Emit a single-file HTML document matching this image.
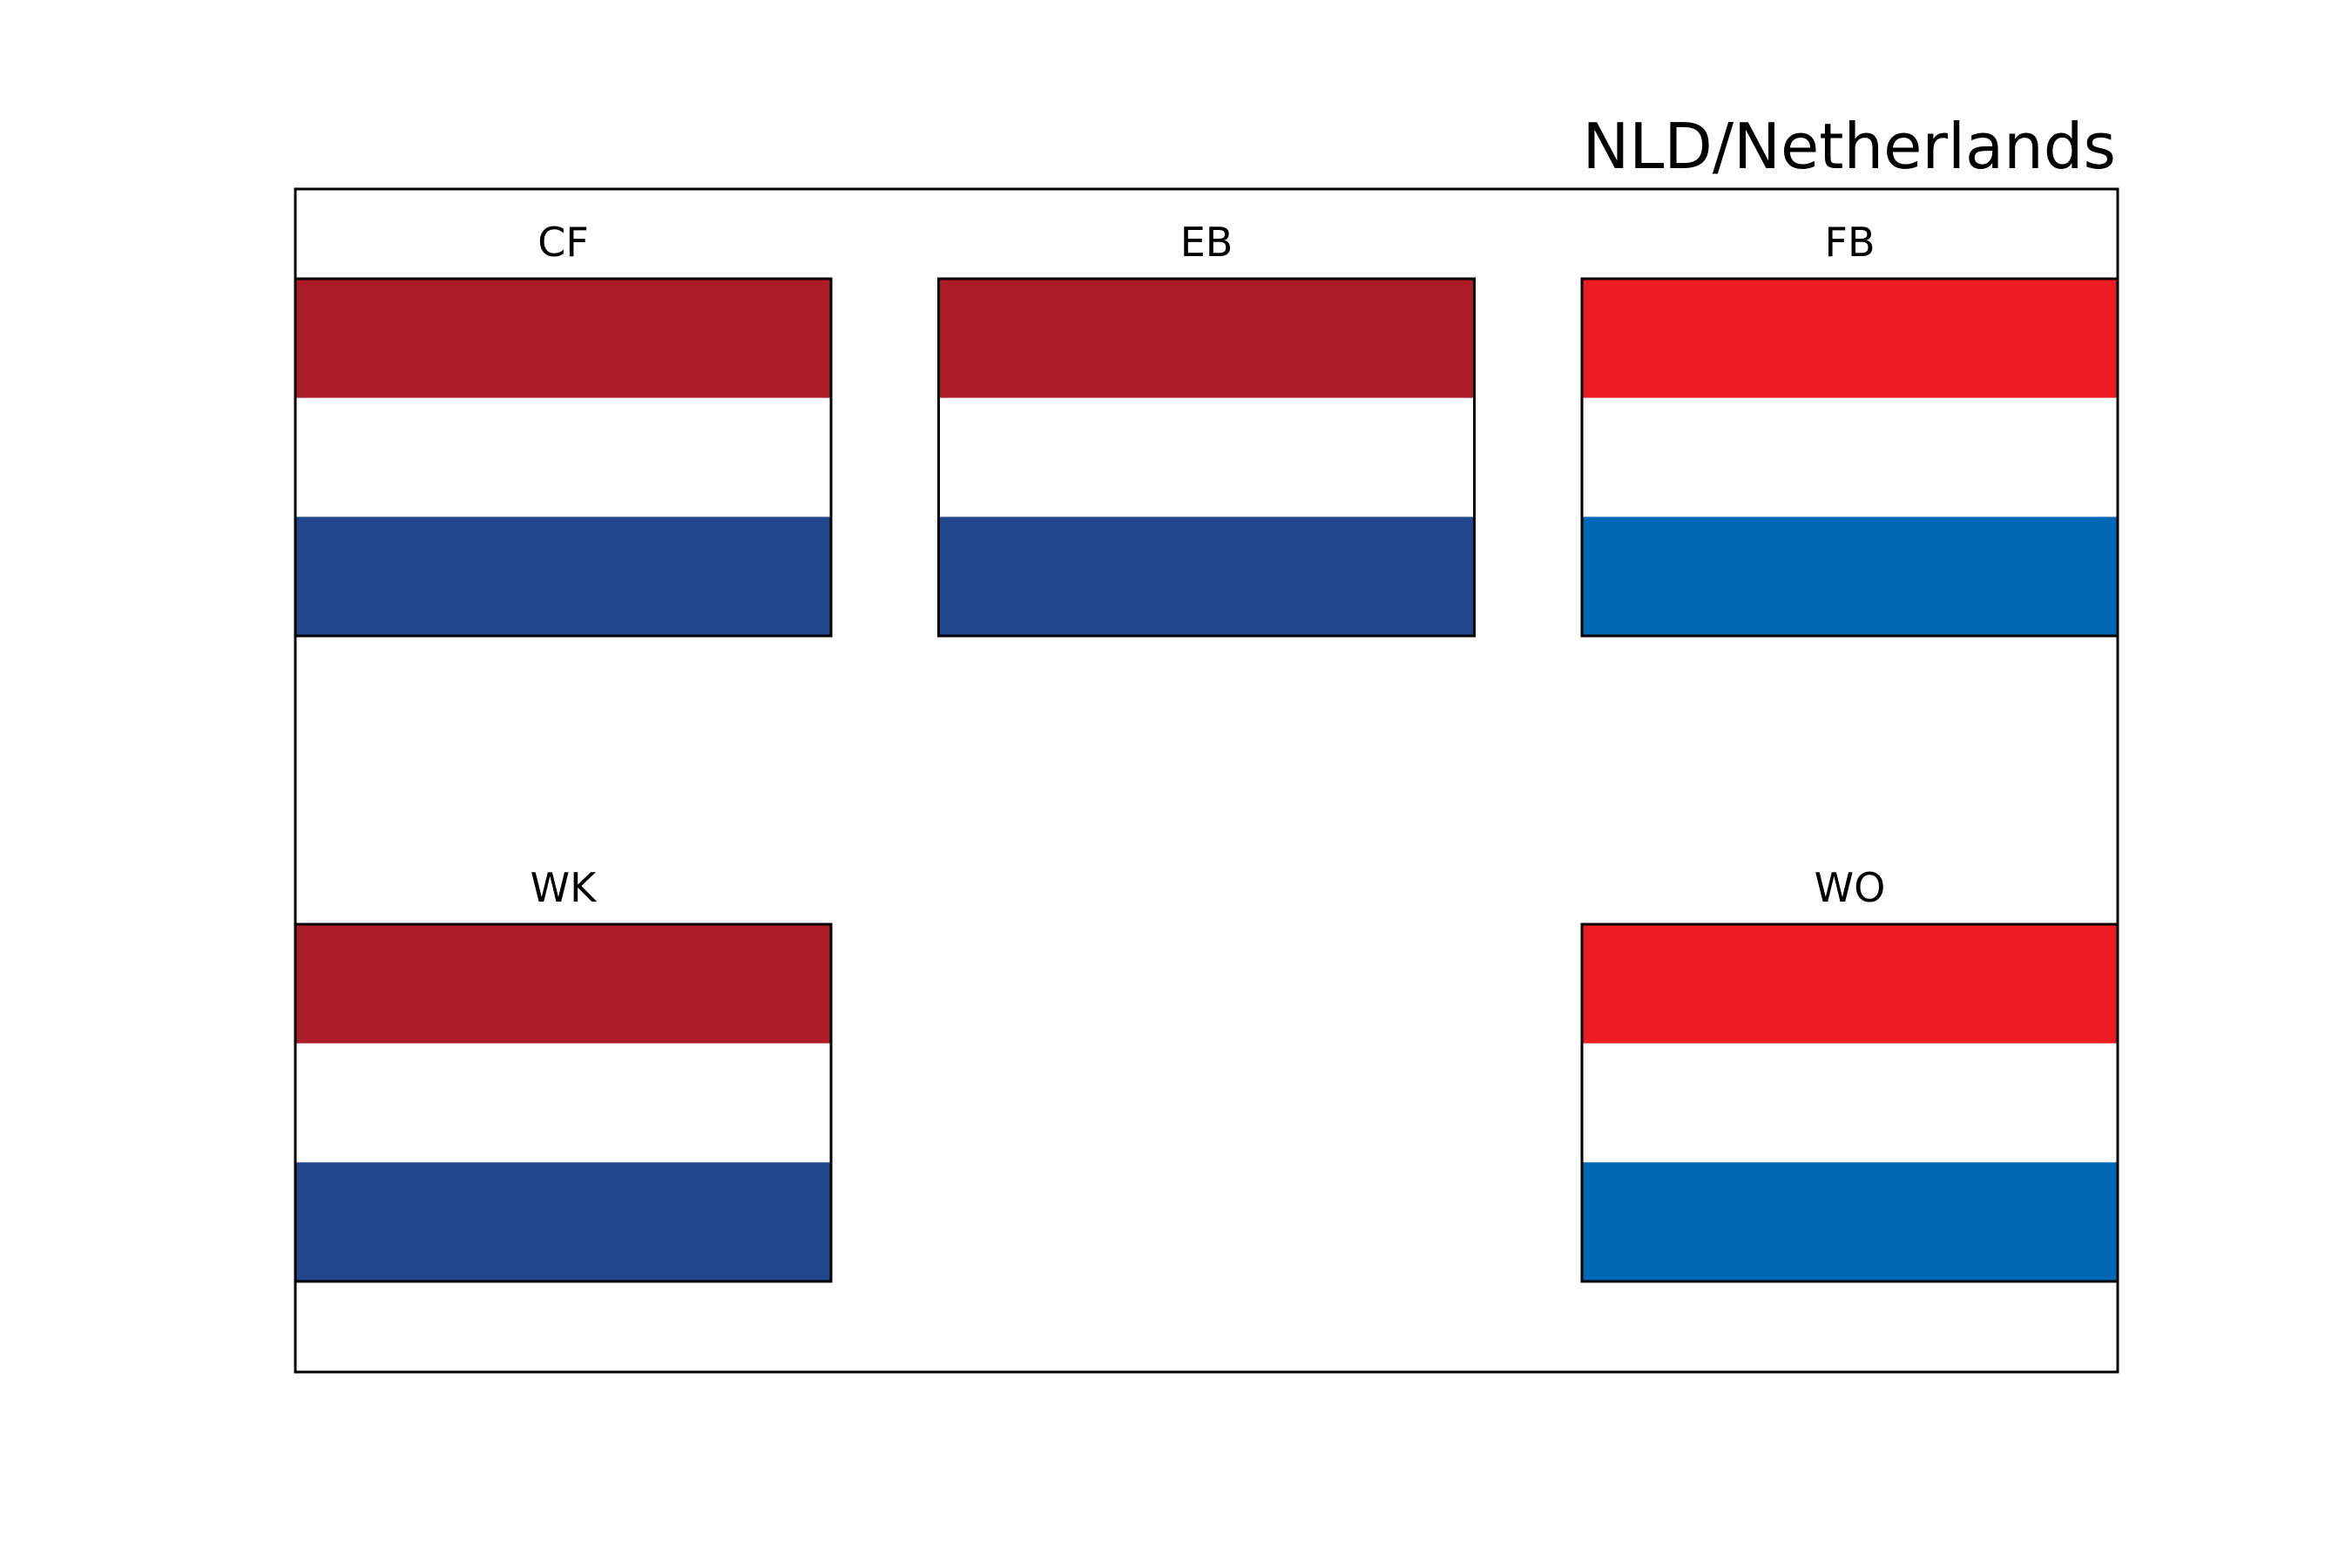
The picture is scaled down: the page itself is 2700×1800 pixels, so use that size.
<!DOCTYPE html>
<html><head><meta charset="utf-8"><style>
html,body{margin:0;padding:0;background:#fff;}
svg{display:block;font-family:"DejaVu Sans","Liberation Sans",sans-serif;}
</style></head><body>
<svg id="chart" width="2700" height="1800" viewBox="0 0 2700 1800">
<rect x="0" y="0" width="2700" height="1800" fill="#fff"/>
<text x="2429" y="193" font-size="72" text-anchor="end" fill="#000">NLD/Netherlands</text>
<rect x="339" y="217" width="2092" height="1358" fill="none" stroke="#000" stroke-width="3"/>
<g id="flags"></g>
</svg>
<script>
const labels = ["CF", "EB", "FB", "WK", "WO"];
const cols = [0, 1, 2, 0, 2];
const rows = [0, 0, 0, 1, 1];
const topColors = ["#AE1C28", "#AE1C28", "#ED1C24", "#AE1C28", "#ED1C24"];
const bottomColors = ["#21468B", "#21468B", "#0067B4", "#21468B", "#0067B4"];
const stripeFractions = [1/3, 1/3, 1/3];

const colX = c => 339 + c * 738.5;
const rowY = r => 320 + r * 741;
const flagW = 615, flagH = 410;
const g = document.getElementById('flags');
const NS = 'http://www.w3.org/2000/svg';
labels.forEach((lab, i) => {
  const x = colX(cols[i]), y = rowY(rows[i]);
  const colors = [topColors[i], "#FFFFFF", bottomColors[i]];
  let yy = y;
  stripeFractions.forEach((f, k) => {
    const r = document.createElementNS(NS, 'rect');
    r.setAttribute('x', x); r.setAttribute('y', yy);
    r.setAttribute('width', flagW); r.setAttribute('height', f * flagH + 0.5);
    r.setAttribute('fill', colors[k]);
    
    
    g.appendChild(r);
    yy += f * flagH;
  });
  const b = document.createElementNS(NS, 'rect');
  b.setAttribute('x', x); b.setAttribute('y', y);
  b.setAttribute('width', flagW); b.setAttribute('height', flagH);
  b.setAttribute('fill', 'none'); b.setAttribute('stroke', '#000'); b.setAttribute('stroke-width', '3');
  
  
  g.appendChild(b);
  const t = document.createElementNS(NS, 'text');
  t.setAttribute('x', x + flagW / 2); t.setAttribute('y', y - 26);
  t.setAttribute('font-size', '46'); t.setAttribute('text-anchor', 'middle');
  t.textContent = lab;
  
  
  g.appendChild(t);
});
</script>
</body></html>
